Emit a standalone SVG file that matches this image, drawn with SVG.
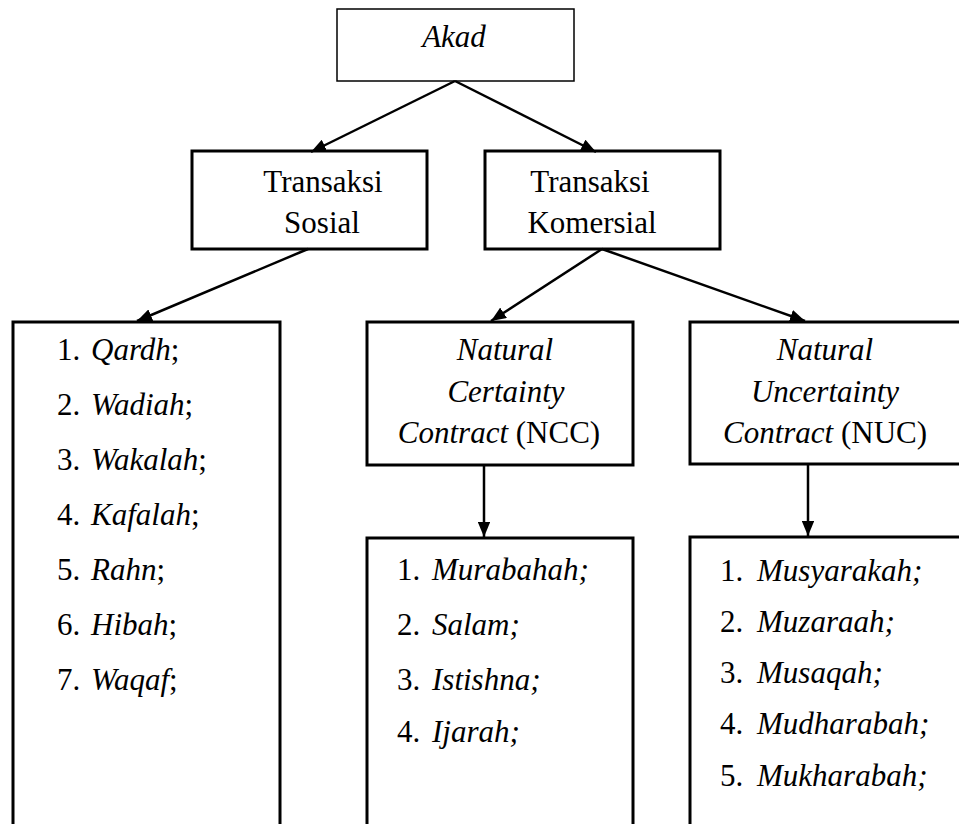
<svg xmlns="http://www.w3.org/2000/svg" width="959" height="824" viewBox="0 0 959 824" font-family="'Liberation Serif', 'Times New Roman', serif">
<style>
  text { font-family: "Liberation Serif", "Times New Roman", serif; font-size: 31px; fill: #000; }
  .it { font-style: italic; }
  .c { text-anchor: middle; }
  .box { fill: #fff; stroke: #000; stroke-width: 3; }
  .thin { fill: #fff; stroke: #000; stroke-width: 1.5; }
  .conn line { stroke: #000; stroke-width: 2.5; }
</style>
<defs>
  <marker id="ah" viewBox="0 0 12 10" refX="12" refY="5" markerWidth="6" markerHeight="5" markerUnits="strokeWidth" orient="auto">
    <path d="M0,0 L12,5 L0,10 Z" fill="#000"/>
  </marker>
</defs>
<rect width="959" height="824" fill="#fff"/>

<g id="akad">
  <rect class="thin" x="337" y="9" width="237" height="72"/>
  <text class="it c" x="454" y="47">Akad</text>
</g>

<g id="sosial">
  <rect class="box" x="192" y="151" width="235" height="98"/>
  <text class="c" x="323" y="192">Transaksi</text>
  <text class="c" x="322" y="233">Sosial</text>
</g>

<g id="komersial">
  <rect class="box" x="485" y="151" width="235" height="98"/>
  <text class="c" x="590" y="192">Transaksi</text>
  <text class="c" x="592" y="233">Komersial</text>
</g>

<g id="sosial-list">
  <rect class="box" x="13" y="322" width="267" height="520"/>
  <text x="57" y="360">1.</text><text x="91" y="360"><tspan class="it">Qardh</tspan>;</text>
  <text x="57" y="415">2.</text><text x="91" y="415"><tspan class="it">Wadiah</tspan>;</text>
  <text x="57" y="470">3.</text><text x="91" y="470"><tspan class="it">Wakalah</tspan>;</text>
  <text x="57" y="525">4.</text><text x="91" y="525"><tspan class="it">Kafalah</tspan>;</text>
  <text x="57" y="580">5.</text><text x="91" y="580"><tspan class="it">Rahn</tspan>;</text>
  <text x="57" y="635">6.</text><text x="91" y="635"><tspan class="it">Hibah</tspan>;</text>
  <text x="57" y="690">7.</text><text x="91" y="690"><tspan class="it">Waqaf</tspan>;</text>
</g>

<g id="ncc">
  <rect class="box" x="367" y="322" width="266" height="143"/>
  <text class="it c" x="505" y="360">Natural</text>
  <text class="it c" x="506" y="402">Certainty</text>
  <text class="c" x="499" y="443"><tspan class="it">Contract</tspan> (NCC)</text>
</g>

<g id="nuc">
  <rect class="box" x="690" y="322" width="290" height="142"/>
  <text class="it c" x="825" y="360">Natural</text>
  <text class="it c" x="825" y="402">Uncertainty</text>
  <text class="c" x="825" y="443"><tspan class="it">Contract</tspan> (NUC)</text>
</g>

<g id="ncc-list">
  <rect class="box" x="367" y="538" width="266" height="310"/>
  <text x="397" y="580">1.</text><text class="it" x="432" y="580">Murabahah;</text>
  <text x="397" y="635">2.</text><text class="it" x="432" y="635">Salam;</text>
  <text x="397" y="690">3.</text><text class="it" x="432" y="690">Istishna;</text>
  <text x="397" y="742">4.</text><text class="it" x="432" y="742">Ijarah;</text>
</g>

<g id="nuc-list">
  <rect class="box" x="690" y="537" width="290" height="310"/>
  <text x="720" y="581">1.</text><text class="it" x="757" y="581">Musyarakah;</text>
  <text x="720" y="632">2.</text><text class="it" x="757" y="632">Muzaraah;</text>
  <text x="720" y="683">3.</text><text class="it" x="757" y="683">Musaqah;</text>
  <text x="720" y="734">4.</text><text class="it" x="757" y="734">Mudharabah;</text>
  <text x="720" y="786">5.</text><text class="it" x="757" y="786">Mukharabah;</text>
</g>

<g id="connectors" class="conn">
  <line x1="455" y1="81" x2="311" y2="152" marker-end="url(#ah)"/>
  <line x1="455" y1="81" x2="596" y2="152" marker-end="url(#ah)"/>
  <line x1="308" y1="249" x2="137" y2="321" marker-end="url(#ah)"/>
  <line x1="602" y1="249" x2="491" y2="321" marker-end="url(#ah)"/>
  <line x1="602" y1="249" x2="805" y2="321" marker-end="url(#ah)"/>
  <line x1="484" y1="465" x2="484" y2="537" marker-end="url(#ah)"/>
  <line x1="808" y1="464" x2="808" y2="536" marker-end="url(#ah)"/>
</g>
</svg>
